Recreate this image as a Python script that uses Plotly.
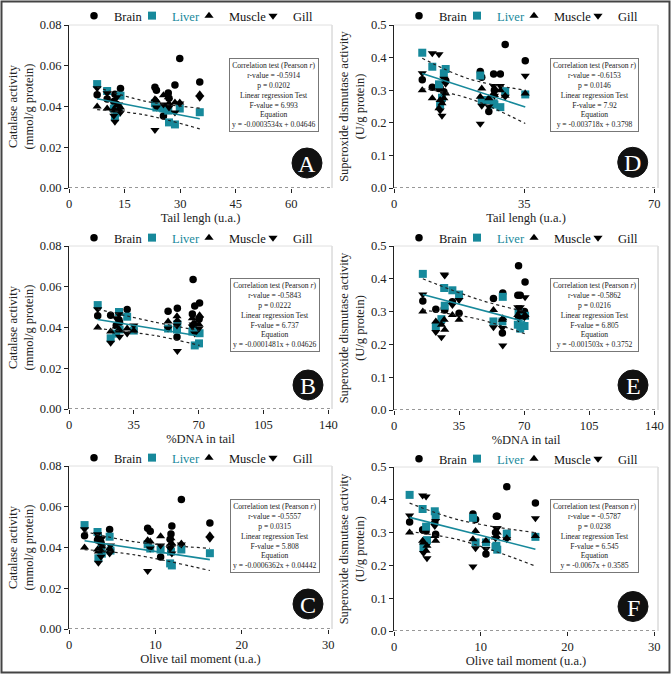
import plotly.graph_objects as go

# ---------------- data ----------------
# comet-assay values of the 15 samples
tail_length = [7.6, 10.3, 12.1, 12.4, 12.9, 13.4, 13.9, 23.2, 23.6, 25.5, 26.8, 27.0, 28.6, 29.9, 35.3]
dna_tail = [15.5, 27.0, 27.3, 22.5, 25.5, 35.0, 31.4, 58.5, 53.5, 58.3, 66.6, 70.2, 67.9, 67.0, 70.5]
olive_moment = [1.8, 3.3, 3.7, 3.4, 3.8, 4.8, 4.7, 9.1, 9.4, 10.6, 11.8, 11.7, 11.9, 13.0, 16.3]

# catalase activity (mmol/g protein)
cat_brain = [0.0458, 0.0437, 0.0424, 0.0460, 0.0410, 0.0390, 0.0488, 0.0495, 0.0480, 0.0353, 0.0466, 0.0440, 0.0505, 0.0635, 0.0520]
cat_liver = [0.0510, 0.0476, 0.0390, 0.0347, 0.0370, 0.0385, 0.0453, 0.0416, 0.0395, 0.0390, 0.0380, 0.0322, 0.0312, 0.0390, 0.0372]
cat_muscle = [0.0400, 0.0390, 0.0385, 0.0380, 0.0405, 0.0385, 0.0395, 0.0435, 0.0430, 0.0455, 0.0445, 0.0415, 0.0420, 0.0420, 0.0460]
cat_gill = [0.0490, 0.0465, 0.0355, 0.0325, 0.0445, 0.0410, 0.0370, 0.0285, 0.0395, 0.0410, 0.0405, 0.0395, 0.0370, 0.0415, 0.0443]

# superoxide dismutase activity (U/g protein)
sod_brain = [0.332, 0.309, 0.305, 0.307, 0.270, 0.295, 0.330, 0.357, 0.340, 0.235, 0.350, 0.300, 0.350, 0.440, 0.390]
sod_liver = [0.415, 0.372, 0.318, 0.255, 0.277, 0.352, 0.365, 0.345, 0.270, 0.270, 0.260, 0.256, 0.248, 0.297, 0.287]
sod_muscle = [0.300, 0.275, 0.245, 0.270, 0.260, 0.275, 0.290, 0.280, 0.305, 0.275, 0.290, 0.285, 0.300, 0.283, 0.290]
sod_gill = [0.352, 0.413, 0.410, 0.238, 0.222, 0.335, 0.320, 0.197, 0.252, 0.250, 0.313, 0.283, 0.313, 0.280, 0.344]

tissues = ["Brain", "Liver", "Muscle", "Gill"]

# statistics printed in the boxes (panels A..F)
panel_letters = ["A", "B", "C", "D", "E", "F"]
r_values = ["-0.5914", "-0.5843", "-0.5557", "-0.6153", "-0.5862", "-0.5787"]
p_values = ["0.0202", "0.0222", "0.0315", "0.0146", "0.0216", "0.0238"]
f_values = ["6.993", "6.737", "5.808", "7.92", "6.805", "6.545"]
slopes = [-0.0003534, -0.0001481, -0.0006362, -0.003718, -0.001503, -0.0067]
intercepts = [0.04646, 0.04626, 0.04442, 0.3798, 0.3752, 0.3585]
slope_txt = ["-0.0003534", "-0.0001481", "-0.0006362", "-0.003718", "-0.001503", "-0.0067"]
intercept_txt = ["0.04646", "0.04626", "0.04442", "0.3798", "0.3752", "0.3585"]

# 95% confidence band
band_x_A = [7.6, 20.1, 35.3]
band_up_A = [0.0495, 0.0428, 0.0392]
band_lo_A = [0.0385, 0.0360, 0.0290]
band_x_B = [15.5, 46.0, 70.5]
band_up_B = [0.0490, 0.0427, 0.0385]
band_lo_B = [0.0395, 0.0361, 0.0312]
band_x_C = [1.8, 7.6, 16.3]
band_up_C = [0.0478, 0.0428, 0.0396]
band_lo_C = [0.0390, 0.0364, 0.0287]
band_x_D = [7.6, 20.1, 35.3]
band_up_D = [0.398, 0.335, 0.300]
band_lo_D = [0.305, 0.275, 0.198]
band_x_E = [15.5, 46.0, 70.5]
band_up_E = [0.400, 0.336, 0.300]
band_lo_E = [0.305, 0.276, 0.232]
band_x_F = [1.8, 7.6, 16.3]
band_up_F = [0.390, 0.338, 0.300]
band_lo_F = [0.303, 0.277, 0.198]

# ---------------- styling / layout ----------------
W, H = 671, 674
TEAL = "#17899b"
FONT = "Liberation Serif"
symbols = ["circle", "square", "triangle-up", "triangle-down"]
msizes = [7.5, 8, 8, 8]
colors = ["black", TEAL, "black", "black"]

cat_sets = [cat_brain, cat_liver, cat_muscle, cat_gill]
sod_sets = [sod_brain, sod_liver, sod_muscle, sod_gill]
bands = [(band_x_A, band_up_A, band_lo_A), (band_x_B, band_up_B, band_lo_B), (band_x_C, band_up_C, band_lo_C),
         (band_x_D, band_up_D, band_lo_D), (band_x_E, band_up_E, band_lo_E), (band_x_F, band_up_F, band_lo_F)]

xmetrics = [tail_length, dna_tail, olive_moment]
xranges = [71, 142, 30.43]
xticks = [[0, 15, 30, 45, 60], [0, 35, 70, 105, 140], [0, 10, 20, 30]]
xtitles = ["Tail lengh (u.a.)", "%DNA in tail", "Olive tail moment (u.a.)"]
xticks_sod = [[0, 35, 70], [0, 35, 70, 105, 140], [0, 10, 20, 30]]

# pixel boxes (left, right, top, bottom)
boxes = [(69, 332, 25, 188), (69, 332, 246, 409), (69, 332, 466, 629),
         (394, 658, 25, 188), (394, 658, 246, 410), (394, 658, 467, 631)]
stat_centers = [(274, 95), (274.5, 315.5), (274.5, 535.5), (594.5, 95.5), (594.5, 315.5), (594.5, 536)]
badge_centers = [(307, 163), (308, 385), (308, 604), (632.7, 162.3), (633, 385), (633, 606.5)]
legend_pos = [(89, 16), (89, 238), (89, 458), (414, 16), (414, 238), (414, 459)]
legend_widths = [28, 27, 34, 30]

fig = go.Figure()
layout = dict(width=W, height=H, margin=dict(l=0, r=0, t=0, b=0, autoexpand=False),
              paper_bgcolor="white", plot_bgcolor="white",
              font=dict(family=FONT, color="#111", size=12), shapes=[], annotations=[])

for i in range(6):
    n = i + 1
    xa = "x" if n == 1 else f"x{n}"
    ya = "y" if n == 1 else f"y{n}"
    lg = "legend" if n == 1 else f"legend{n}"
    row = i % 3
    is_sod = i >= 3
    xs = xmetrics[row]
    ysets = sod_sets if is_sod else cat_sets
    for t in range(4):
        name = tissues[t] if t != 1 else f"<span style='color:{TEAL}'>{tissues[t]}</span>"
        fig.add_trace(go.Scatter(x=xs, y=ysets[t], mode="markers", name=name,
                                 marker=dict(symbol=symbols[t], size=msizes[t], color=colors[t],
                                             line=dict(width=0)),
                                 xaxis=xa, yaxis=ya, legend=lg, legendwidth=legend_widths[t],
                                 showlegend=True))
    bx, bu, bl = bands[i]
    for by in (bu, bl):
        fig.add_trace(go.Scatter(x=bx, y=by, mode="lines", line=dict(color="#222", width=1.2, dash="dot", shape="spline"),
                                 xaxis=xa, yaxis=ya, showlegend=False, hoverinfo="skip"))
    lx = [min(xs), max(xs)]
    ly = [slopes[i] * v + intercepts[i] for v in lx]
    fig.add_trace(go.Scatter(x=lx, y=ly, mode="lines", line=dict(color=TEAL, width=1.6),
                             xaxis=xa, yaxis=ya, showlegend=False, hoverinfo="skip"))

    L, R, T, B = boxes[i]
    xkey = "xaxis" if n == 1 else f"xaxis{n}"
    ykey = "yaxis" if n == 1 else f"yaxis{n}"
    layout[xkey] = dict(domain=[L / W, R / W], anchor=ya, range=[0, xranges[row]], automargin=False,
                        tickvals=(xticks_sod[row] if is_sod else xticks[row]), ticks="outside", ticklen=4,
                        tickcolor="#222", showline=False, showgrid=False, zeroline=False,
                        tickfont=dict(size=12.5, family=FONT, color="#222"),
                        title=dict(text=xtitles[row], font=dict(size=12.5, family=FONT, color="#222"), standoff=0))
    layout[ykey] = dict(domain=[1 - B / H, 1 - T / H], anchor=xa, automargin=False,
                        range=[0, 0.5 if is_sod else 0.08],
                        tickvals=([0, 0.1, 0.2, 0.3, 0.4, 0.5] if is_sod else [0, 0.02, 0.04, 0.06, 0.08]),
                        tickformat=(".1f" if is_sod else ".2f"), ticks="outside", ticklen=4, tickcolor="#222",
                        showline=True, linecolor="#222", linewidth=1, showgrid=False, zeroline=False,
                        tickfont=dict(size=12.5, family=FONT, color="#222"),
                        title=dict(text=("Superoxide dismutase activity<br>(U/g protein)" if is_sod
                                         else "Catalase activity<br>(mmol/g protein)"),
                                   font=dict(size=12.5, family=FONT, color="#222"), standoff=3))
    # frame: dotted baseline, light top/right lines
    layout["shapes"].append(dict(type="line", xref=f"{xa} domain", yref=ya, x0=0, x1=1, y0=0, y1=0,
                                 line=dict(color="#333", width=1.2, dash="dot")))
    layout["shapes"].append(dict(type="line", xref=f"{xa} domain", yref=f"{ya} domain", x0=1, x1=1, y0=0, y1=1,
                                 line=dict(color="#c8c8c8", width=1)))
    layout["shapes"].append(dict(type="line", xref=f"{xa} domain", yref=f"{ya} domain", x0=0, x1=1, y0=1, y1=1,
                                 line=dict(color="#e0e0e0", width=1)))
    # stats box
    cx, cy = stat_centers[i]
    txt = ("Correlation test (Pearson <i>r</i>)<br>r-value = " + r_values[i] + "<br>p = " + p_values[i] +
           "<br>Linear regression Test<br>F-value = " + f_values[i] + "<br>Equation<br>y = " + slope_txt[i] +
           "x + " + intercept_txt[i])
    layout["annotations"].append(dict(xref="paper", yref="paper", x=cx / W, y=1 - cy / H, xanchor="center",
                                      yanchor="middle", text=txt, showarrow=False, align="center",
                                      font=dict(size=7.6, family=FONT, color="#222"), bgcolor="white",
                                      bordercolor="#777", borderwidth=1, borderpad=2))
    # badge
    bxc, byc = badge_centers[i]
    r = 15
    layout["shapes"].append(dict(type="circle", xref="paper", yref="paper", x0=(bxc - r) / W, x1=(bxc + r) / W,
                                 y0=1 - (byc + r) / H, y1=1 - (byc - r) / H, fillcolor="#111",
                                 line=dict(color="#111", width=1)))
    layout["annotations"].append(dict(xref="paper", yref="paper", x=bxc / W, y=1 - (byc + 1) / H, xanchor="center",
                                      yanchor="middle", text=panel_letters[i], showarrow=False,
                                      font=dict(size=24, family=FONT, color="white")))
    lxp, lyp = legend_pos[i]
    layout[lg] = dict(x=lxp / W, y=1 - lyp / H, xanchor="left", yanchor="middle", orientation="h",
                      font=dict(size=12.5, family=FONT, color="#111"), bgcolor="rgba(0,0,0,0)",
                      itemwidth=30, borderwidth=0, traceorder="normal", indentation=-15)

# outer border
layout["shapes"].append(dict(type="rect", xref="paper", yref="paper", x0=1.5 / W, x1=1 - 1.5 / W,
                             y0=1.5 / H, y1=1 - 1.5 / H, line=dict(color="#444", width=2)))

fig.update_layout(**layout)
fig.write_html("out.html", config={"displayModeBar": False},
               post_script="document.body.style.margin='0';document.body.style.padding='0';")
